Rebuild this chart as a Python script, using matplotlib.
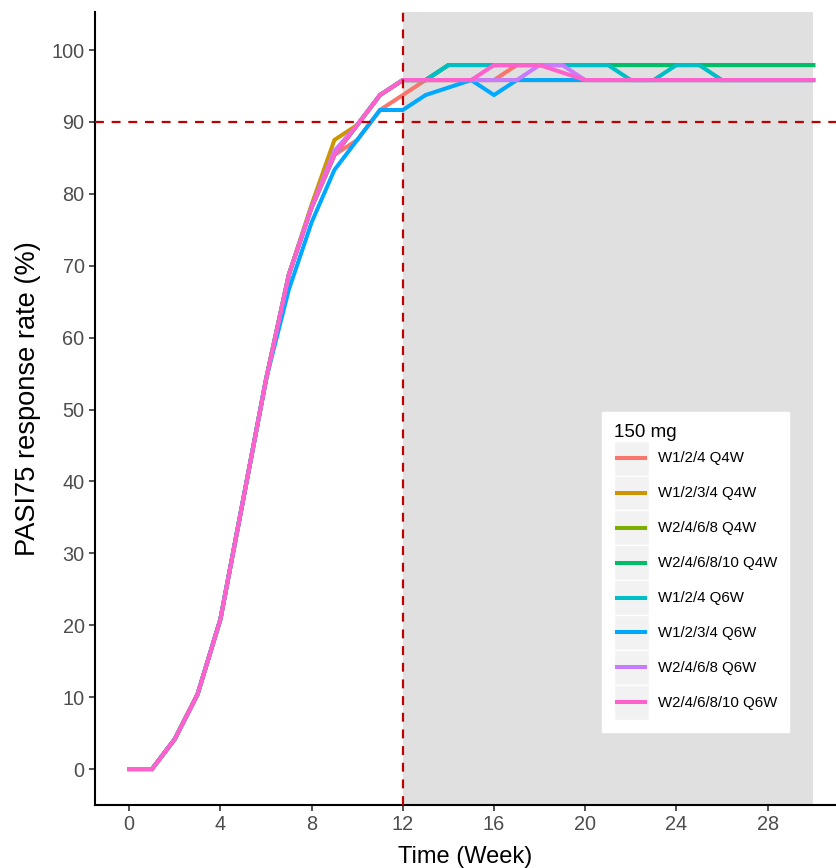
import matplotlib.pyplot as plt
from matplotlib.patches import Patch
from matplotlib.lines import Line2D
from matplotlib.legend_handler import HandlerLine2D

plt.rcParams['font.family'] = ['Liberation Sans', 'DejaVu Sans']

weeks = list(range(31))

# PASI75 response rate (%) per week, 150 mg regimens
w124_q4w = [0, 0, 4.17, 10.42, 20.83, 37.5, 54.17, 68.75, 78.13, 85.42, 87.5,
            91.67, 93.75, 95.83, 95.83, 95.83, 95.83, 97.92, 97.92, 97.92, 97.92,
            97.92, 97.92, 97.92, 97.92, 97.92, 97.92, 97.92, 97.92, 97.92, 97.92]
w1234_q4w = [0, 0, 4.17, 10.42, 20.83, 37.5, 54.17, 68.75, 78.5, 87.5, 89.58,
             93.75, 95.83, 95.83, 95.83, 95.83, 95.83, 95.83, 95.83, 95.83, 95.83,
             95.83, 95.83, 95.83, 95.83, 95.83, 95.83, 95.83, 95.83, 95.83, 95.83]
w2468_q4w = [0, 0, 4.17, 10.42, 20.83, 37.5, 54.17, 68.75, 78.13, 85.42, 89.58,
             93.75, 95.83, 95.83, 97.92, 97.92, 97.92, 97.92, 97.92, 97.92, 97.92,
             97.92, 97.92, 97.92, 97.92, 97.92, 97.92, 97.92, 97.92, 97.92, 97.92]
w246810_q4w = [0, 0, 4.17, 10.42, 20.83, 37.5, 54.17, 68.75, 78.13, 85.42, 89.58,
               93.75, 95.83, 95.83, 97.92, 97.92, 97.92, 97.92, 97.92, 97.92, 97.92,
               97.92, 97.92, 97.92, 97.92, 97.92, 97.92, 97.92, 97.92, 97.92, 97.92]
w124_q6w = [0, 0, 4.17, 10.42, 20.83, 37.5, 54.17, 68.75, 78.13, 85.42, 89.58,
            93.75, 95.83, 95.83, 97.92, 97.92, 97.92, 97.92, 97.92, 97.92, 97.92,
            97.92, 95.83, 95.83, 97.92, 97.92, 95.83, 95.83, 95.83, 95.83, 95.83]
w1234_q6w = [0, 0, 4.17, 10.42, 20.83, 37.5, 54.17, 66.67, 76.04, 83.33, 87.5,
             91.67, 91.67, 93.75, 94.79, 95.83, 93.75, 95.83, 95.83, 95.83, 95.83,
             95.83, 95.83, 95.83, 95.83, 95.83, 95.83, 95.83, 95.83, 95.83, 95.83]
w2468_q6w = [0, 0, 4.17, 10.42, 20.83, 37.5, 54.17, 68.75, 78.13, 86.0, 89.58,
             93.75, 95.83, 95.83, 95.83, 95.83, 95.83, 95.83, 97.92, 97.92, 95.83,
             95.83, 95.83, 95.83, 95.83, 95.83, 95.83, 95.83, 95.83, 95.83, 95.83]
w246810_q6w = [0, 0, 4.17, 10.42, 20.83, 37.5, 54.17, 68.75, 78.13, 85.42, 89.58,
               93.75, 95.83, 95.83, 95.83, 95.83, 97.92, 97.92, 97.92, 96.88, 95.83,
               95.83, 95.83, 95.83, 95.83, 95.83, 95.83, 95.83, 95.83, 95.83, 95.83]

labels = ["W1/2/4 Q4W", "W1/2/3/4 Q4W", "W2/4/6/8 Q4W", "W2/4/6/8/10 Q4W",
          "W1/2/4 Q6W", "W1/2/3/4 Q6W", "W2/4/6/8 Q6W", "W2/4/6/8/10 Q6W"]
series = [w124_q4w, w1234_q4w, w2468_q4w, w246810_q4w,
          w124_q6w, w1234_q6w, w2468_q6w, w246810_q6w]
colors = ["#F8766D", "#CD9600", "#7CAE00", "#00BE67",
          "#00BFC4", "#00A9FF", "#C77CFF", "#FF61CC"]

fig = plt.figure(figsize=(8.36, 8.68), dpi=100)
ax = fig.add_axes([95 / 836, 63 / 868, (836 - 95) / 836, (805 - 12) / 868])

ax.axvspan(12, 30, color="#E0E0E0", zorder=0, lw=0)

for y, c in zip(series, colors):
    ax.plot(weeks, y, color=c, lw=2.9, zorder=3, solid_joinstyle="miter")

ax.axhline(90, color="#C00000", lw=1.6, ls=(0, (4, 3.5)), zorder=4)
ax.axvline(12, color="#C00000", lw=1.6, ls=(0, (4, 3.5)), zorder=4)

ax.set_xlim(-1.5, 31.0)
ax.set_ylim(-5, 105.3)
ax.set_xticks(range(0, 29, 4))
ax.set_yticks(range(0, 101, 10))
ax.tick_params(labelsize=14.3, labelcolor="#4D4D4D", length=4, width=1.2, color="#333333")
for side in ["top", "right"]:
    ax.spines[side].set_visible(False)
for side in ["left", "bottom"]:
    ax.spines[side].set_linewidth(1.5)

ax.set_xlabel("Time (Week)", fontsize=17, labelpad=8)
ax.set_ylabel("PASI75 response rate (%)", fontsize=19.6)
ax.yaxis.set_label_coords(-0.073, 0.513)


# shorter legend line, centred in the grey key box
class MidLine(HandlerLine2D):
    def create_artists(self, legend, orig_handle, xdescent, ydescent,
                       width, height, fontsize, trans):
        return super().create_artists(legend, orig_handle, xdescent - 0.1 * width,
                                      2 * ydescent, 0.8 * width, height,
                                      fontsize, trans)


handles = [(Patch(facecolor="#F2F2F2", edgecolor="white", lw=1),
            Line2D([], [], color=c, lw=2.9)) for c in colors]
leg = ax.legend(handles, labels, title="150 mg", loc="upper left",
                bbox_to_anchor=(0.684, 0.496), borderaxespad=0,
                fontsize=10.8, title_fontsize=13.5, alignment="left",
                handlelength=2.33, handleheight=3.2, labelspacing=0,
                handletextpad=0.6, borderpad=0.8, frameon=True, fancybox=False,
                handler_map={Line2D: MidLine()})
leg.get_frame().set_facecolor("white")
leg.get_frame().set_edgecolor("white")
leg.get_frame().set_alpha(1)

plt.savefig("out.png", dpi=100)
